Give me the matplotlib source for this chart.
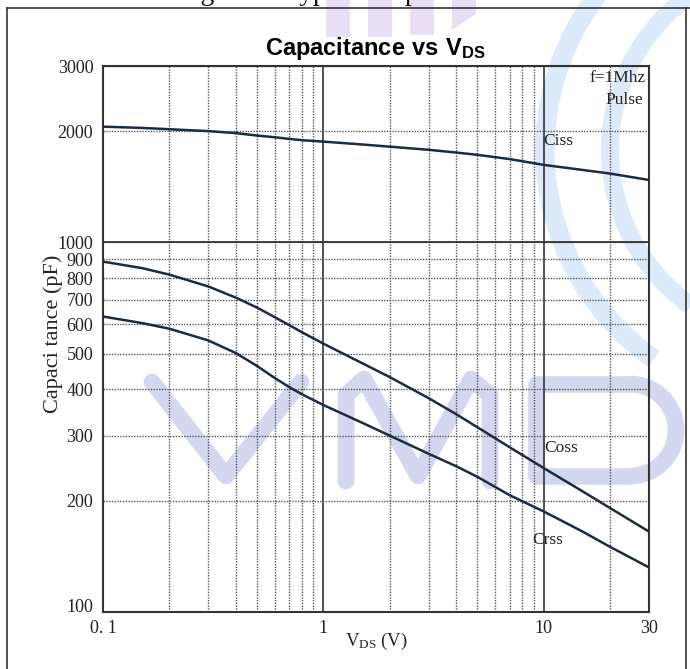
import matplotlib
matplotlib.use("Agg")
import matplotlib.pyplot as plt
from matplotlib.lines import Line2D
from matplotlib.patches import Arc, Rectangle, Polygon
from matplotlib.transforms import Affine2D, ScaledTranslation
from matplotlib.ticker import FixedLocator, NullFormatter

# ---------------- data ----------------
vds = [0.1, 0.15, 0.2, 0.3, 0.4, 0.5, 0.6, 0.7, 0.8, 1, 1.5, 2, 3, 4, 5, 7, 10, 15, 20, 30]
ciss = [2056, 2040, 2023, 2000, 1975, 1945, 1925, 1905, 1890, 1873, 1840, 1815, 1780,
        1750, 1725, 1680, 1620, 1570, 1535, 1475]
coss = [887, 852, 818, 760, 709, 666, 628, 597, 571, 532, 471, 432, 379,
        343, 316, 279, 245, 212, 191, 165]
crss = [630, 605, 584, 543, 502, 463, 430, 406, 388, 363, 325, 300, 268,
        248, 232, 207, 187, 165, 150, 132]

x_ticks = [0.1, 1, 10, 30]
x_tick_labels = ["0. 1", "1", "10", "30"]
y_ticks = [100, 200, 300, 400, 500, 600, 700, 800, 900, 1000, 2000, 3000]
y_tick_labels = ["100", "200", "300", "400", "500", "600", "700", "800", "900",
                 "1000", "2000", "3000"]
x_minor = [0.2, 0.3, 0.4, 0.5, 0.6, 0.7, 0.8, 0.9, 2, 3, 4, 5, 6, 7, 8, 9, 20]

plt.rcParams['mathtext.fontset'] = 'custom'
plt.rcParams['mathtext.rm'] = 'Liberation Serif'
plt.rcParams['mathtext.bf'] = 'Liberation Sans:bold'

W, H = 690, 669
fig = plt.figure(figsize=(W / 100, H / 100), dpi=100)
fig.patch.set_facecolor('white')

# pixel (image coords, y down) -> figure transform
px = Affine2D().scale(1 / W, -1 / H).translate(0, 1) + fig.transFigure

# ---------------- watermark (behind axes) ----------------
wm = '#d3d8f0'
lw_wm = 12
for pts in [
    [(152, 382), (226, 476), (301, 382)],                                  # V
    [(346, 481), (346, 395), (364, 379), (418, 476), (471, 379), (490, 395), (490, 481)],  # M
]:
    xs, ys = zip(*pts)
    fig.add_artist(Line2D(xs, ys, transform=px, color=wm, lw=lw_wm,
                          solid_capstyle='round', solid_joinstyle='round', zorder=-5))
fig.add_artist(Line2D([630, 536, 536, 630], [384, 384, 476, 476], transform=px,
                      color=wm, lw=lw_wm, solid_capstyle='round',
                      solid_joinstyle='round', zorder=-5))
fig.add_artist(Arc((630, 430), 92, 92, theta1=-90, theta2=90, transform=px,
                   color=wm, lw=lw_wm, zorder=-5))

# lavender bars at top
lav = '#e8def5'
for x0, h in [(326, 37), (368, 37), (410, 35)]:
    fig.add_artist(Rectangle((x0, 0), 24, h, transform=px, color=lav, lw=0, zorder=-5))
fig.add_artist(Polygon([(452, 0), (476, 0), (476, 14), (452, 30)], closed=True,
                       transform=px, color=lav, lw=0, zorder=-5))

# light blue arcs at right
lb = '#dcebfb'
for r, w in [(255, 14), (190, 13)]:
    fig.add_artist(Arc((800, 150), 2 * r, 2 * r, theta1=125, theta2=235, transform=px,
                       color=lb, lw=w, zorder=-5))

# ---------------- page frame & cut-off caption ----------------
fig.add_artist(Line2D([7, 690], [8, 8], transform=px, color='#333333', lw=1.2))
fig.add_artist(Line2D([7, 7], [8, 669], transform=px, color='#333333', lw=1.2))
fig.add_artist(Line2D([686, 686], [8, 669], transform=px, color='#333333', lw=1.2))
fig.text(177 / W, 1 - 0.5 / H, "Figure 9. Typical Capacitance", family='Liberation Serif',
         fontsize=20, ha='left', va='baseline', color='#111111')

# ---------------- axes ----------------
ax = fig.add_axes([103 / W, (H - 612) / H, 546 / W, 546 / H])
ax.patch.set_alpha(0)
ax.set_xscale('log')
ax.set_yscale('log')
ax.set_xlim(0.1, 30)
ax.set_ylim(100, 3000)

line_c = '#1b2b40'
for ser in (ciss, coss, crss):
    ax.plot(vds, ser, color=line_c, lw=1.8, zorder=5, solid_joinstyle='round')

ax.xaxis.set_major_locator(FixedLocator(x_ticks))
ax.set_xticklabels(x_tick_labels)
ax.xaxis.set_minor_locator(FixedLocator(x_minor))
ax.xaxis.set_minor_formatter(NullFormatter())
ax.yaxis.set_major_locator(FixedLocator(y_ticks))
ax.set_yticklabels(y_tick_labels)
ax.yaxis.set_minor_locator(FixedLocator([]))

ax.tick_params(which='both', length=0)
ax.tick_params(axis='y', pad=7)
ax.tick_params(axis='x', pad=6)
for lab in ax.get_xticklabels() + ax.get_yticklabels():
    lab.set_family('Liberation Serif')
    lab.set_fontsize(13)
    lab.set_color('#222222')
# the "100" label sits slightly above its line in the reference
lab100 = ax.get_yticklabels()[0]
lab100.set_transform(lab100.get_transform() + ScaledTranslation(0, 7 / 100, fig.dpi_scale_trans))

dot = (0, (1, 1))
ax.grid(which='minor', axis='x', ls=dot, color='#555555', lw=1.0)
ax.grid(which='major', axis='x', ls='-', color='#333333', lw=1.2)
ax.grid(which='major', axis='y', ls=dot, color='#555555', lw=1.0)
ax.axhline(1000, color='#333333', lw=1.3)
ax.set_axisbelow(True)
for s in ax.spines.values():
    s.set_color('#333333')
    s.set_linewidth(1.5)

ax.set_ylabel("Capaci tance (pF)", family='Liberation Serif', fontsize=16,
              color='#222222')
ax.yaxis.set_label_coords(-0.074, (612 - 334) / 546)
ax.set_xlabel(r"$\mathrm{V_{DS}}$ (V)", family='Liberation Serif', fontsize=13.5,
              color='#222222', labelpad=-5)

ax.set_title(r"$\mathbf{Capacitance\ vs\ V_{DS}}$", fontsize=17, pad=8, color='black')

tk = dict(family='Liberation Serif', fontsize=12.5, color='#222222', transform=ax.transAxes)
ax.text(0.993, 0.978, "f=1Mhz", ha='right', va='center', **tk)
ax.text(0.99, 0.938, "Pulse", ha='right', va='center', **tk)
ax.text(0.806, 0.862, "Ciss", ha='left', va='center', **tk)
ax.text(0.809, 0.300, "Coss", ha='left', va='center', **tk)
ax.text(0.786, 0.132, "Crss", ha='left', va='center', **tk)

fig.savefig("out.png", dpi=100)
